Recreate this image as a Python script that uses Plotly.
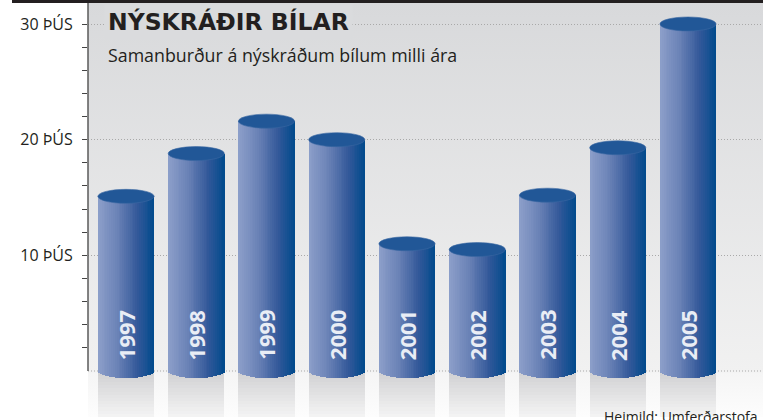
import base64
import numpy as np
import plotly.graph_objects as go

# ---------------- data ----------------
years = [1997, 1998, 1999, 2000, 2001, 2002, 2003, 2004, 2005]
registrations = [15100, 18800, 21600, 20000, 11000, 10500, 15200, 19300, 30000]
tick_values = [10000, 20000, 30000]
tick_labels = ["10 ÞÚS", "20 ÞÚS", "30 ÞÚS"]
title_text = "NÝSKRÁÐIR BÍLAR"
subtitle_text = "Samanburður á nýskráðum bílum milli ára"
source_text = "Heimild: Umferðarstofa"

# ---------------- geometry / style ----------------
W, H = 766, 420
plot_left, plot_right = 88, 763
plot_top, plot_bottom = 3, 417
y_zero_px, y_30k_px = 371, 24
units_per_px = 30000 / (y_zero_px - y_30k_px)
y_max = (y_zero_px - plot_top) * units_per_px
y_min = -(plot_bottom - y_zero_px) * units_per_px

cat_px = 70.25
first_center_px = 126
x_min = years[0] - (first_center_px - plot_left) / cat_px
x_max = x_min + (plot_right - plot_left) / cat_px
bar_w = 0.80
ell_ry_px = 7
ell_ry = ell_ry_px * units_per_px
PW = plot_right - plot_left
PH = plot_bottom - plot_top

def hex2rgb(h):
    h = h.lstrip('#')
    return np.array([int(h[i:i + 2], 16) for i in (0, 2, 4)], float)

def mix(c1, c2, t):
    c = hex2rgb(c1) * (1 - t) + hex2rgb(c2) * t
    return 'rgb(%d,%d,%d)' % tuple(np.round(c))

fig = go.Figure()

# reflection columns below the baseline
n_ref = 14
band = (-y_min - ell_ry * 0.2) / n_ref
for j in range(n_ref):
    t = j / (n_ref - 1)
    fig.add_trace(go.Bar(
        x=years, y=[band * 1.05] * len(years),
        base=[y_min + j * band] * len(years),
        width=bar_w, marker=dict(color=mix('#f3f3f3', '#d2d2d4', t), line_width=0),
        hoverinfo='skip', showlegend=False))

# cylinder bodies: vertical strips forming a horizontal gradient
n_strips = 30
stops = [(0.0, '#8d9fca'), (0.35, '#6a82b6'), (0.7, '#34599a'), (1.0, '#004a8c')]

def grad(t):
    for (a, ca), (b, cb) in zip(stops[:-1], stops[1:]):
        if t <= b:
            return mix(ca, cb, (t - a) / (b - a))
    return stops[-1][1]

sw = bar_w / n_strips
for k in range(n_strips):
    u = (k + 0.5) / n_strips
    rel = 2 * u - 1
    drop = ell_ry * np.sqrt(max(0.0, 1 - rel * rel))
    fig.add_trace(go.Bar(
        x=years, y=[v + drop for v in registrations], base=[-drop] * len(years),
        width=sw * 1.15, offset=-bar_w / 2 + k * sw,
        marker=dict(color=grad(u), line_width=0),
        hoverinfo='skip', showlegend=False))

# top faces of cylinders
shapes = []
for yr, v in zip(years, registrations):
    shapes.append(dict(type='circle', xref='x', yref='y', layer='above',
                       x0=yr - bar_w / 2, x1=yr + bar_w / 2,
                       ysizemode='pixel', yanchor=v, y0=-ell_ry_px, y1=ell_ry_px,
                       fillcolor='#215797', line=dict(color='#3a68a3', width=0.6)))

# y axis line (from zero to top)
shapes.append(dict(type='line', xref='paper', yref='y', x0=0, x1=0, y0=0, y1=y_max,
                   line=dict(color='#5a5a5a', width=1.5), layer='above'))
# dark top rule
shapes.append(dict(type='rect', xref='paper', yref='paper',
                   x0=(12 - plot_left) / PW, x1=1.0,
                   y0=1.0, y1=1.0 + 3 / PH,
                   fillcolor='#231f20', line_width=0, layer='above'))

# background gradient image
zero_frac = (y_zero_px - plot_top) / PH
svg = (
    '<svg xmlns="http://www.w3.org/2000/svg" width="100" height="100" preserveAspectRatio="none">'
    '<defs><linearGradient id="g" x1="0" y1="0" x2="0" y2="1">'
    '<stop offset="0" stop-color="#d8d9db"/>'
    f'<stop offset="{zero_frac:.3f}" stop-color="#f1f1f1"/>'
    f'<stop offset="{zero_frac + 0.005:.3f}" stop-color="#f5f5f5"/>'
    '<stop offset="1" stop-color="#fdfdfd"/>'
    '</linearGradient></defs>'
    '<rect width="100" height="100" fill="url(#g)"/></svg>')
svg_uri = 'data:image/svg+xml;base64,' + base64.b64encode(svg.encode()).decode()

annotations = []
for yr in years:
    annotations.append(dict(x=yr, y=3100, xref='x', yref='y', text=str(yr),
                            textangle=-90, showarrow=False,
                            font=dict(family='Open Sans', size=22, color='#e9edf5', weight='bold')))

annotations.append(dict(x=(104 - plot_left) / PW, y=1 - (22 - plot_top) / PH,
                        xref='paper', yref='paper', xanchor='left', yanchor='middle',
                        text=title_text, showarrow=False, bgcolor='#dadbdd', borderpad=3,
                        font=dict(family='DejaVu Sans', size=23.5, color='#231f20', weight='bold')))
annotations.append(dict(x=(106 - plot_left) / PW, y=1 - (55 - plot_top) / PH,
                        xref='paper', yref='paper', xanchor='left', yanchor='middle',
                        text=subtitle_text, showarrow=False,
                        font=dict(family='Open Sans', size=17.8, color='#231f20')))
annotations.append(dict(x=(760 - plot_left) / PW, y=1 - (416 - plot_top) / PH,
                        xref='paper', yref='paper', xanchor='right', yanchor='middle',
                        text=source_text, showarrow=False,
                        font=dict(family='Open Sans', size=14, color='#231f20')))

fig.update_layout(
    width=W, height=H,
    margin=dict(l=plot_left, r=W - plot_right, t=plot_top, b=H - plot_bottom),
    paper_bgcolor='white', plot_bgcolor='rgba(0,0,0,0)',
    barmode='overlay', bargap=0, showlegend=False,
    shapes=shapes, annotations=annotations,
    images=[dict(source=svg_uri, xref='paper', yref='paper', x=0, y=1,
                 sizex=1, sizey=1, sizing='stretch', xanchor='left', yanchor='top',
                 layer='below')],
    xaxis=dict(range=[x_min, x_max], visible=False, fixedrange=True),
    yaxis=dict(range=[y_min, y_max], tickvals=tick_values, ticktext=tick_labels,
               showline=False, zeroline=False, ticks='outside', ticklen=5,
               tickcolor='#444444', tickwidth=1, ticklabelstandoff=6,
               tickfont=dict(family='Open Sans', size=16, color='#231f20'),
               showgrid=True, gridcolor='#a9a9a9', griddash='1px,2px', gridwidth=1,
               minor=dict(tickvals=[v for v in range(0, 30001, 2000) if v % 10000], ticks='outside',
                          ticklen=5, tickcolor='#444444', showgrid=False),
               fixedrange=True),
)
# baseline dotted grid at zero
fig.add_hline(y=0, line=dict(color='#a9a9a9', width=1, dash='1px,2px'), layer='below')

fig.write_html("out.html", config={'displayModeBar': False},
               post_script="document.body.style.margin='0';")
